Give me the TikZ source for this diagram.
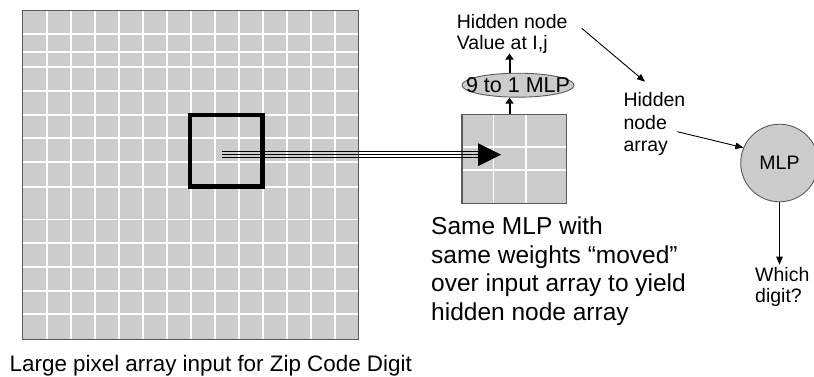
\documentclass[tikz,border=0pt]{standalone}
\usepackage{fontspec}
\setmainfont{Liberation Sans}
\usetikzlibrary{arrows.meta,calc,shapes.geometric}
\definecolor{cellgray}{HTML}{CCCCCC}
\definecolor{edgegray}{HTML}{5A5A5A}
\begin{document}
\begin{tikzpicture}[x=1pt,y=-1pt,
  gridfill/.style={fill=cellgray, draw=none, inner sep=0pt, anchor=north west},
  gridline/.style={white, line width=1.8pt},
  gridborder/.style={draw=edgegray, line width=1.4pt},
  lbl/.style={inner sep=0pt, anchor=base west},
  smalltext/.style={lbl, font=\fontsize{19.5}{22}\selectfont},
  bigtext/.style={lbl, font=\fontsize{24.5}{28.6}\selectfont},
  arr/.style={line width=0.9pt, -{Triangle[length=8pt,width=6.5pt]}},
  uparr/.style={line width=2pt, -{Triangle[length=6pt,width=8pt]}},
  shaftline/.style={line width=1pt},
]
\useasboundingbox (0,0) rectangle (814,377);

% large input array
\node[gridfill, minimum width=335.7pt, minimum height=328.3pt] (input) at (22.3,10.7) {};
\foreach \x in {46.7,70.7,95,119,143.3,167.3,191,215,238.7,262.7,286.7,310.7,334.7}
  \draw[gridline] (\x,10.7) -- (\x,339);
\foreach \y in {34.3,51.7,66.7,90.7,115,138.3,162.3,186.7,219.5,243,266.7,290.7,314.3}
  \draw[gridline] (22.3,\y) -- (358,\y);
\draw[gridborder] (input.north west) rectangle (input.south east);

% moving window
\node[draw=black, line width=4.7pt, minimum width=72.5pt, minimum height=71.7pt, inner sep=0pt] (window) at (226.25,150.85) {};

% hidden 3x3 array
\node[gridfill, minimum width=104pt, minimum height=88.3pt] (hidden) at (462,114.5) {};
\foreach \x in {493.5,526}
  \draw[gridline] (\x,114.5) -- (\x,202.8);
\foreach \y in {146.7,170}
  \draw[gridline] (462,\y) -- (566,\y);
\draw[gridborder, line width=1.2pt] (hidden.north west) rectangle (hidden.south east);

% triple-line arrow
\coordinate (tstart) at (222,154.7);
\coordinate (ttip) at (501,154.7);
\foreach \o in {-3,0,3}
  \draw[shaftline] ($(tstart)+(0,\o)$) -- ($(ttip)+(-22,\o)$);
\fill ($(ttip)+(-23,-11.5)$) -- (ttip) -- ($(ttip)+(-23,11.5)$) -- cycle;

% 9 to 1 MLP
\node[ellipse, fill=cellgray, draw=edgegray, line width=0.9pt, minimum width=112pt, minimum height=24pt, inner sep=0pt, font=\fontsize{21.5}{24}\selectfont] (mlp9) at (518,85.2) {\makebox[0pt]{9 to 1 MLP}};

% texts
\node[smalltext] (hv1) at (456.7,28.3) {Hidden node};
\node[smalltext] (hv2) at (456.7,49.3) {Value at I,j};
\node[smalltext] (hna1) at (623.3,106.3) {Hidden};
\node[smalltext] (hna2) at (623.3,129.2) {node};
\node[smalltext] (hna3) at (623.3,151.8) {array};
\node[smalltext] (which1) at (755,281.7) {Which};
\node[smalltext] (which2) at (755,302) {digit?};
\node[bigtext] (same1) at (431,234.5) {Same MLP with};
\node[bigtext] (same2) at (431,263.2) {same weights “moved”};
\node[bigtext] (same3) at (431,291.8) {over input array to yield};
\node[bigtext] (same4) at (431,320.4) {hidden node array};
\node[lbl, font=\fontsize{22.4}{26}\selectfont] (cap) at (9.5,371) {Large pixel array input for Zip Code Digit};

% output MLP
\node[circle, fill=cellgray, draw=edgegray, line width=0.9pt, minimum size=77.6pt, inner sep=0pt, font=\fontsize{19.5}{22}\selectfont] (mlpc) at (779.5,163) {MLP};

% arrows
\coordinate (upx) at (509.5,0);
\draw[uparr] (upx |- hidden.north) -- (upx |- mlp9.south);
\draw[uparr] (upx |- mlp9.north) -- (upx |- hv2.south);
\coordinate (d1s) at (581.7,28.3);
\coordinate (d1e) at (645,81.7);
\draw[arr] (d1s) -- (d1e);
\coordinate (d2s) at (677.3,131.7);
\draw[arr] (d2s) -- (mlpc.157);
\draw[arr, shorten >=2.7pt] (mlpc.south) -- (mlpc.south |- which1.north);
\end{tikzpicture}
\end{document}
